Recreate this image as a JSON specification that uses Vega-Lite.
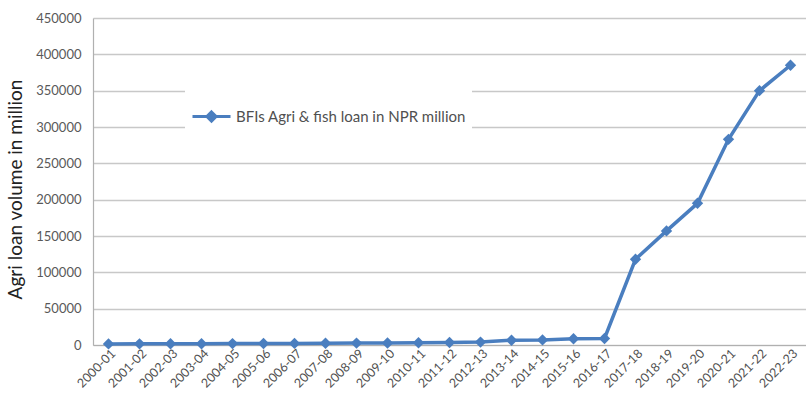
{
  "$schema": "https://vega.github.io/schema/vega-lite/v6.json",
  "width": 713,
  "height": 327,
  "autosize": {"type": "none"},
  "padding": {"left": 93, "top": 18, "right": 0, "bottom": 55},
  "background": "white",
  "config": {
    "view": {"stroke": null},
    "font": "Lato"
  },
  "data": {
    "values": [
      {"year": "2000-01", "loan": 1500, "series": "BFIs Agri & fish loan in NPR million"},
      {"year": "2001-02", "loan": 1600, "series": "BFIs Agri & fish loan in NPR million"},
      {"year": "2002-03", "loan": 1700, "series": "BFIs Agri & fish loan in NPR million"},
      {"year": "2003-04", "loan": 1800, "series": "BFIs Agri & fish loan in NPR million"},
      {"year": "2004-05", "loan": 1900, "series": "BFIs Agri & fish loan in NPR million"},
      {"year": "2005-06", "loan": 2000, "series": "BFIs Agri & fish loan in NPR million"},
      {"year": "2006-07", "loan": 2200, "series": "BFIs Agri & fish loan in NPR million"},
      {"year": "2007-08", "loan": 2400, "series": "BFIs Agri & fish loan in NPR million"},
      {"year": "2008-09", "loan": 2600, "series": "BFIs Agri & fish loan in NPR million"},
      {"year": "2009-10", "loan": 2800, "series": "BFIs Agri & fish loan in NPR million"},
      {"year": "2010-11", "loan": 3000, "series": "BFIs Agri & fish loan in NPR million"},
      {"year": "2011-12", "loan": 3500, "series": "BFIs Agri & fish loan in NPR million"},
      {"year": "2012-13", "loan": 4000, "series": "BFIs Agri & fish loan in NPR million"},
      {"year": "2013-14", "loan": 6500, "series": "BFIs Agri & fish loan in NPR million"},
      {"year": "2014-15", "loan": 7000, "series": "BFIs Agri & fish loan in NPR million"},
      {"year": "2015-16", "loan": 8500, "series": "BFIs Agri & fish loan in NPR million"},
      {"year": "2016-17", "loan": 9000, "series": "BFIs Agri & fish loan in NPR million"},
      {"year": "2017-18", "loan": 118000, "series": "BFIs Agri & fish loan in NPR million"},
      {"year": "2018-19", "loan": 157000, "series": "BFIs Agri & fish loan in NPR million"},
      {"year": "2019-20", "loan": 195000, "series": "BFIs Agri & fish loan in NPR million"},
      {"year": "2020-21", "loan": 283000, "series": "BFIs Agri & fish loan in NPR million"},
      {"year": "2021-22", "loan": 350000, "series": "BFIs Agri & fish loan in NPR million"},
      {"year": "2022-23", "loan": 385000, "series": "BFIs Agri & fish loan in NPR million"}
    ]
  },
  "encoding": {
    "x": {
      "field": "year",
      "type": "ordinal",
      "sort": null,
      "scale": {"type": "band", "paddingInner": 0, "paddingOuter": 0},
      "axis": {
        "title": null,
        "labelAngle": -45,
        "labelAlign": "right",
        "labelBaseline": "middle",
        "labelFontSize": 12.5,
        "labelColor": "#505050",
        "labelPadding": 6,
        "labelOffset": 5,
        "ticks": false,
        "domainColor": "#b0b0b0",
        "domainWidth": 1.2,
        "grid": false
      }
    },
    "y": {
      "field": "loan",
      "type": "quantitative",
      "scale": {"domain": [0, 450000], "nice": false},
      "axis": {
        "title": "Agri loan volume in million",
        "titleFontSize": 19,
        "titleFontWeight": "normal",
        "titleColor": "#222222",
        "titlePadding": 10,
        "titleY": 171,
        "values": [0, 50000, 100000, 150000, 200000, 250000, 300000, 350000, 400000, 450000],
        "format": "d",
        "labelFontSize": 13,
        "labelColor": "#595959",
        "labelPadding": 12,
        "ticks": false,
        "domainColor": "#b0b0b0",
        "domainWidth": 1.2,
        "gridColor": "#c8c8c8",
        "gridWidth": 1.5
      }
    },
    "color": {
      "field": "series",
      "type": "nominal",
      "scale": {"range": ["#4A7EBF"]},
      "legend": {
        "title": null,
        "orient": "none",
        "legendX": 92,
        "legendY": 72,
        "symbolType": "M-1,0L1,0M0,-0.24L0.24,0L0,0.24L-0.24,0Z",
        "symbolSize": 1444,
        "symbolStrokeWidth": 3,
        "labelFontSize": 15,
        "labelLimit": 0,
        "labelColor": "#505050",
        "labelOffset": 4,
        "fillColor": "white",
        "padding": 6,
        "encode": {
          "symbols": {"update": {"fill": {"value": "#4A7EBF"}, "stroke": {"value": "#4A7EBF"}}}
        }
      }
    }
  },
  "layer": [
    {"mark": {"type": "line", "strokeWidth": 3.5}},
    {"mark": {"type": "point", "shape": "diamond", "filled": true, "size": 130, "opacity": 1}}
  ]
}
